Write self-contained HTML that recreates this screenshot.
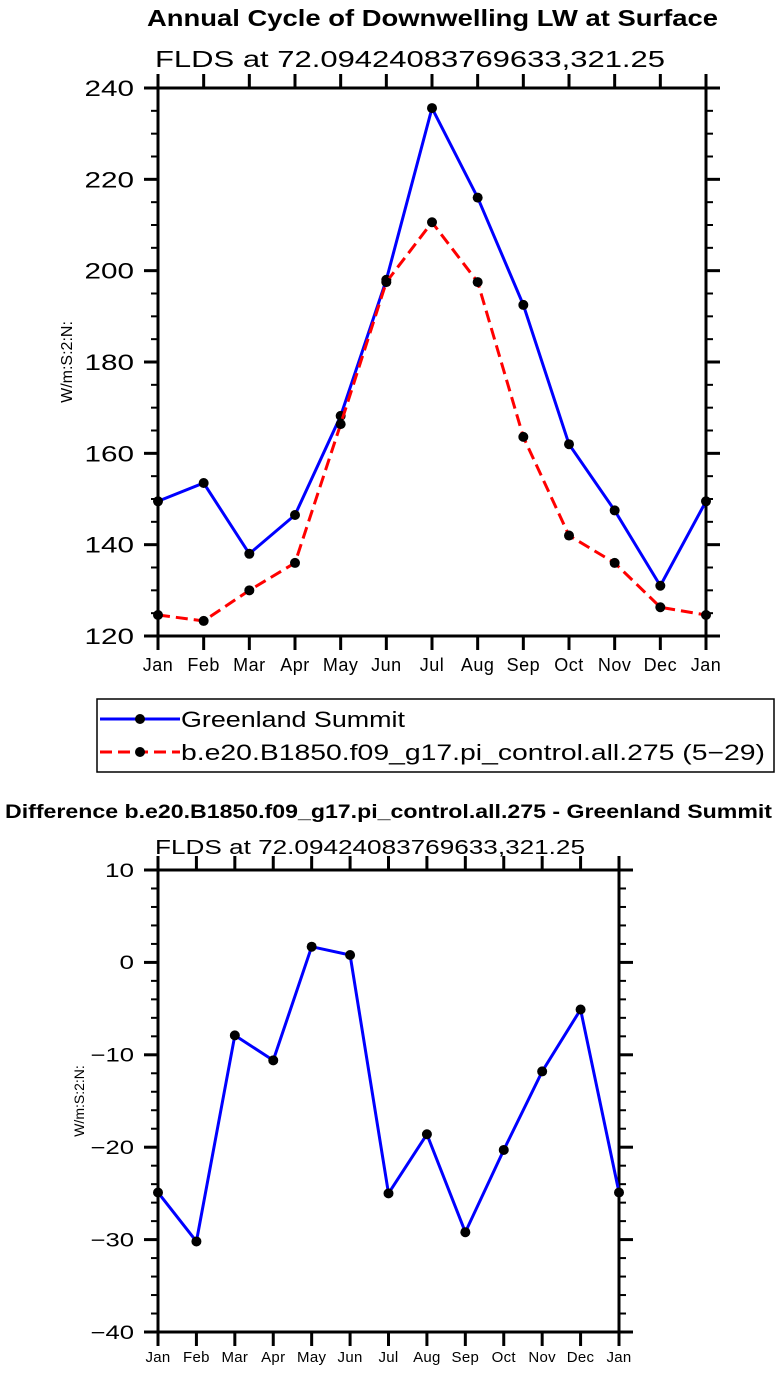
<!DOCTYPE html>
<html><head><meta charset="utf-8"><style>
body{margin:0;background:#fff}
svg{display:block;font-family:"Liberation Sans",sans-serif}
</style></head><body>
<svg id="s" width="778" height="1376"></svg>
<script>
const months = ["Jan","Feb","Mar","Apr","May","Jun","Jul","Aug","Sep","Oct","Nov","Dec","Jan"];
const obsValues = [149.5,153.5,138,146.5,168.2,198,235.6,216,192.5,162,147.5,131,149.5];
const modelValues = [124.6,123.3,130,136,166.4,197.5,210.6,197.5,163.6,142,136,126.3,124.6];
const diffValues = [-24.9,-30.2,-7.9,-10.6,1.7,0.8,-25,-18.6,-29.2,-20.3,-11.8,-5.1,-24.9];
const topYTicks = [120,140,160,180,200,220,240];
const botYTicks = [-40,-30,-20,-10,0,10];

const NS="http://www.w3.org/2000/svg", svg=document.getElementById('s');
function mk(t,a,p){const e=document.createElementNS(NS,t);for(const k in a)e.setAttribute(k,a[k]);(p||svg).appendChild(e);return e;}
function txt(s,a,p){const e=mk('text',a,p);e.textContent=s;return e;}

function panel(o){
  const g=mk('g',{});
  
  
  const {x0,x1,y0,y1,ymin,ymax}=o;
  const xs=i=>x0+(x1-x0)*i/(months.length-1);
  const ys=v=>y1-(v-ymin)*(y1-y0)/(ymax-ymin);
  const fr=mk('rect',{x:x0,y:y0,width:x1-x0,height:y1-y0,fill:'none',stroke:'#000','stroke-width':3},g);
  
  
  months.forEach((m,i)=>{
    const x=xs(i);
    mk('line',{x1:x,x2:x,y1:y1,y2:y1+14,stroke:'#000','stroke-width':3},g);
    mk('line',{x1:x,x2:x,y1:y0,y2:y0-14,stroke:'#000','stroke-width':3},g);
    const t=txt(m,{x:x,y:y1+o.xlabOff,'text-anchor':'middle','font-size':o.xfs,'letter-spacing':o.xls},g);
    
    
  });
  for(let v=ymin;v<=ymax+1e-9;v+=o.minor){
    const y=ys(v);
    mk('line',{x1:x0,x2:x0-7,y1:y,y2:y,stroke:'#000','stroke-width':2},g);
    mk('line',{x1:x1,x2:x1+7,y1:y,y2:y,stroke:'#000','stroke-width':2},g);
  }
  o.yticks.forEach(v=>{
    const y=ys(v);
    mk('line',{x1:x0,x2:x0-14,y1:y,y2:y,stroke:'#000','stroke-width':3},g);
    mk('line',{x1:x1,x2:x1+14,y1:y,y2:y,stroke:'#000','stroke-width':3},g);
    const s=String(v).replace('-','\u2212');
    const t=txt(s,{x:x0-24,y:y+o.yfs*0.36,'text-anchor':'end','font-size':o.yfs,textLength:s.length*o.ych,lengthAdjust:'spacingAndGlyphs'},g);
    
    
  });
  const yt=txt('W/m:S:2:N:',{x:0,y:0,'text-anchor':'middle','font-size':o.ytfs,transform:`translate(${o.ytx},${(y0+y1)/2}) rotate(-90)`},g);
  
  
  o.series.forEach(s=>{
    const pts=s.vals.map((v,i)=>xs(i)+','+ys(v)).join(' ');
    const pl=mk('polyline',{points:pts,fill:'none',stroke:s.color,'stroke-width':3,'stroke-dasharray':s.dash||'none'},g);
    
    
    s.vals.forEach((v,i)=>{
      const c=mk('circle',{cx:xs(i),cy:ys(v),r:5,fill:'#000'},g);
      
      
    });
  });
}

let t;
t=txt('Annual Cycle of Downwelling LW at Surface',{x:147,y:26,'font-size':23,'font-weight':'bold',textLength:571,lengthAdjust:'spacingAndGlyphs'});


t=txt('FLDS at 72.09424083769633,321.25',{x:155,y:67,'font-size':23,textLength:510,lengthAdjust:'spacingAndGlyphs'});



panel({name:'annual-cycle-chart',x0:158,x1:706,y0:88,y1:636,ymin:120,ymax:240,minor:5,yticks:topYTicks,
  xlabOff:35,xfs:18,xls:0.5,yfs:22,ych:16.5,ytfs:16,ytx:72,
  series:[{name:'greenland-summit',vals:obsValues,color:'#0000ff'},
          {name:'model',vals:modelValues,color:'#ff0000',dash:'12 6'}]});

const lg=mk('g',{});


mk('rect',{x:97,y:699,width:677,height:73,fill:'#fff',stroke:'#000','stroke-width':1.5},lg);
mk('line',{x1:100,x2:180,y1:719,y2:719,stroke:'#0000ff','stroke-width':3},lg);
mk('circle',{cx:140,cy:719,r:5,fill:'#000'},lg);
t=txt('Greenland Summit',{x:181,y:727,'font-size':22,textLength:224,lengthAdjust:'spacingAndGlyphs'},lg);


mk('line',{x1:100,x2:180,y1:752,y2:752,stroke:'#ff0000','stroke-width':3,'stroke-dasharray':'12 6'},lg);
mk('circle',{cx:140,cy:752,r:5,fill:'#000'},lg);
t=txt('b.e20.B1850.f09_g17.pi_control.all.275 (5\u221229)',{x:181,y:760,'font-size':22,textLength:584,lengthAdjust:'spacingAndGlyphs'},lg);



t=txt('Difference b.e20.B1850.f09_g17.pi_control.all.275 - Greenland Summit',{x:5,y:818,'font-size':19,'font-weight':'bold',textLength:767,lengthAdjust:'spacingAndGlyphs'});


t=txt('FLDS at 72.09424083769633,321.25',{x:155,y:854,'font-size':20,textLength:430,lengthAdjust:'spacingAndGlyphs'});



panel({name:'difference-chart',x0:158,x1:619,y0:870,y1:1332,ymin:-40,ymax:10,minor:2,yticks:botYTicks,
  xlabOff:30,xfs:15,xls:0.3,yfs:19,ych:14.5,ytfs:14,ytx:84,
  series:[{name:'difference',vals:diffValues,color:'#0000ff'}]});
</script>
</body></html>
